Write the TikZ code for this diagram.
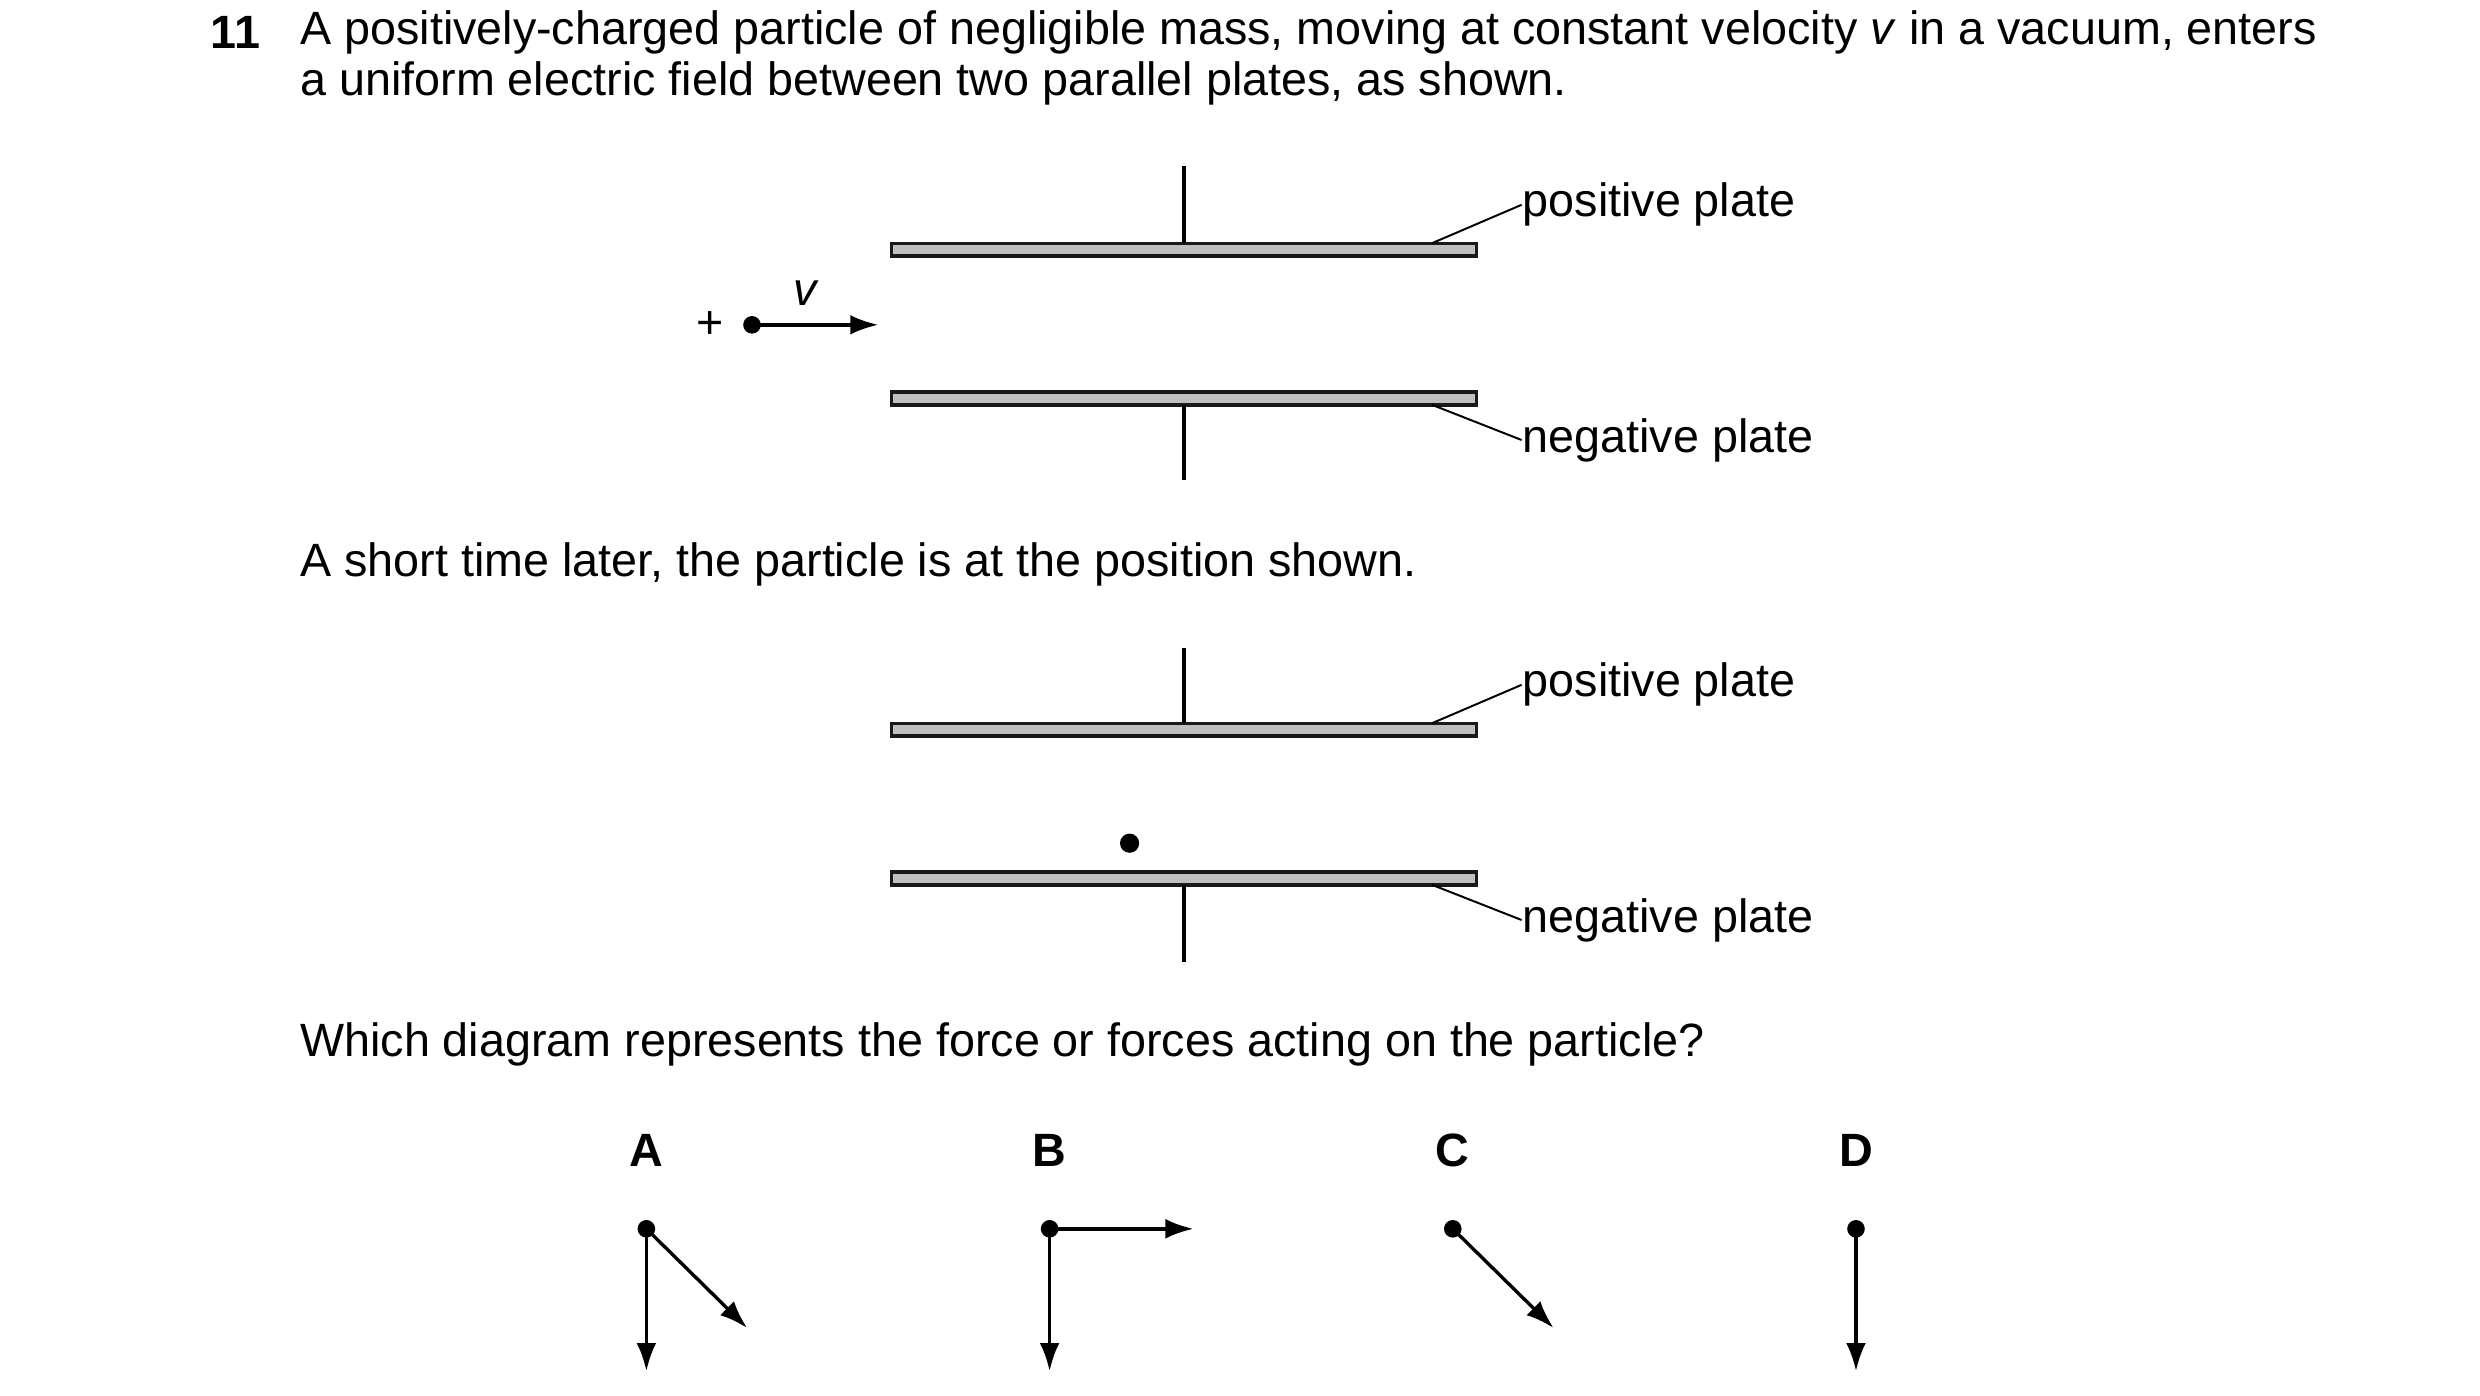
\documentclass[tikz,border=0pt]{standalone}
\usepackage{fontspec}
\setmainfont{Liberation Sans}
\usetikzlibrary{arrows.meta}
\tikzset{
  txt/.style={font=\fontsize{8.3}{10}\selectfont, inner sep=0pt},
  plate/.style={draw=black!90, fill=black!25, line width=0.6pt},
  wire/.style={line width=0.6pt},
  force/.style={line width=0.6pt, -{Latex[length=5pt,width=3.5pt]}},
  lead/.style={line width=0.35pt},
}
\begin{document}
\begin{tikzpicture}[x=0.01cm, y=-0.01cm]
    \useasboundingbox (0,0) rectangle (1550,872);

    % question text
    \node[txt, anchor=west, font=\fontsize{8.3}{10}\selectfont\bfseries] (num) at (131,20) {11};
    \node[txt, anchor=west] (line1) at (187,20) {A positively-charged particle of negligible mass, moving at constant velocity \textit{v} in a vacuum, enters};
    \node[txt, anchor=west] (line2) at (187,52) {a uniform electric field between two parallel plates, as shown.};

    % first arrangement
    \draw[plate] (557,152) rectangle (923,160);
    \draw[plate] (557,245) rectangle (923,253);
    \draw[wire] (740,104) -- (740,152);
    \draw[wire] (740,253) -- (740,300);
    \coordinate (p1) at (895,152);
    \coordinate (n1) at (895,253);
    \node[txt, anchor=west] (pos1) at (951,128) {positive plate};
    \node[txt, anchor=west] (neg1) at (951,275) {negative plate};
    \draw[lead] (p1) -- (pos1.west);
    \draw[lead] (n1) -- (neg1.west);
    \fill (470,203) circle (5.5);
    \coordinate (q) at (470,203);
    \coordinate (qv) at (549,203);
    \draw[force] (q) -- (qv);
    \node[txt] (plus) at (444,203) {+};
    \node[txt, font=\fontsize{8.3}{10}\selectfont\itshape] (v) at (503,183) {v};

    \node[txt, anchor=west] (line3) at (187,353) {A short time later, the particle is at the position shown.};

    % second arrangement
    \draw[plate] (557,452) rectangle (923,460);
    \draw[plate] (557,545) rectangle (923,553);
    \draw[wire] (740,405) -- (740,452);
    \draw[wire] (740,553) -- (740,601);
    \coordinate (p2) at (895,452);
    \coordinate (n2) at (895,553);
    \node[txt, anchor=west] (pos2) at (951,428) {positive plate};
    \node[txt, anchor=west] (neg2) at (951,575) {negative plate};
    \draw[lead] (p2) -- (pos2.west);
    \draw[lead] (n2) -- (neg2.west);
    \fill (706,527) circle (6);

    \node[txt, anchor=west] (line4) at (187,653) {Which diagram represents the force or forces acting on the particle?};

    % options
    \foreach \lab/\x in {A/404,B/656,C/908,D/1160} {
        \node[txt, font=\fontsize{8.3}{10}\selectfont\bfseries] (lab\lab) at (\x,719) {\lab};
        \fill (\x,768) circle (5.5);
        \coordinate (o\lab) at (\x,768);
    }
    \draw[force] (oA) -- ++(0,89);
    \draw[force] (oA) -- ++(63,62);
    \draw[force] (oB) -- ++(0,89);
    \draw[force] (oB) -- ++(90,0);
    \draw[force] (oC) -- ++(63,62);
    \draw[force] (oD) -- ++(0,89);

\end{tikzpicture}
\end{document}
